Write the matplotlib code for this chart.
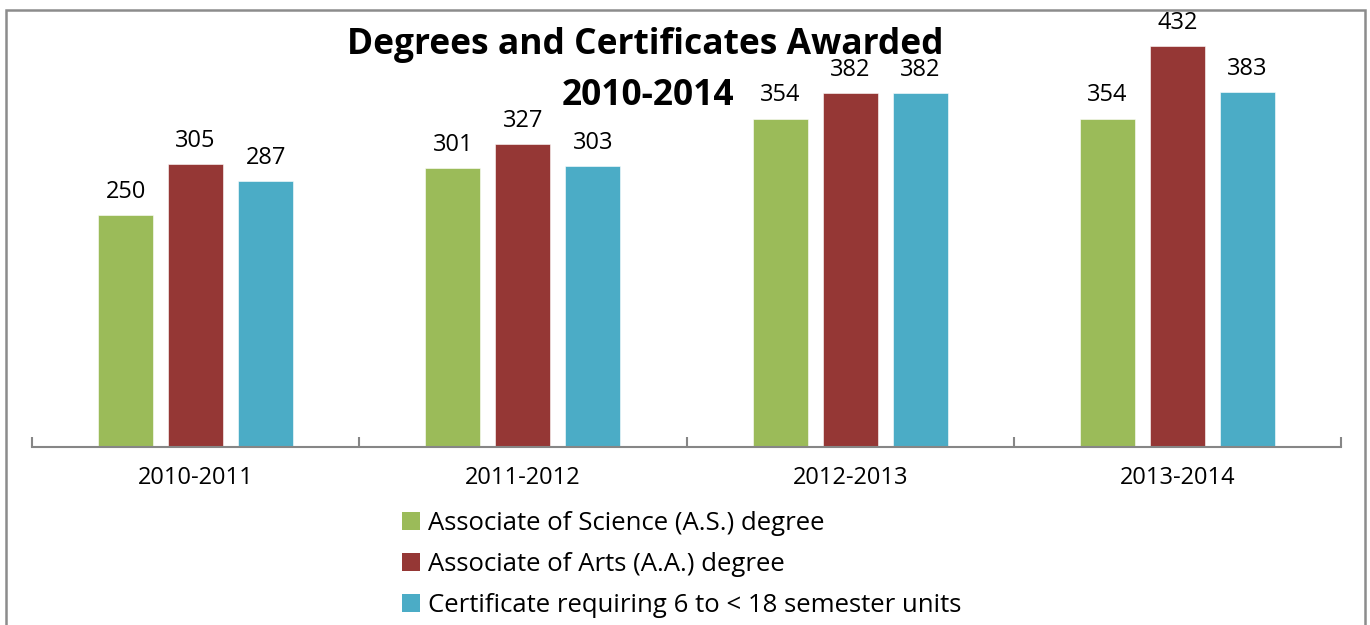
import matplotlib
matplotlib.use('Agg')
import matplotlib.pyplot as plt
from matplotlib.patches import Rectangle, Patch
import numpy as np

plt.rcParams['font.family'] = ['Open Sans', 'DejaVu Sans']

years = ['2010-2011', '2011-2012', '2012-2013', '2013-2014']
series_names = ['Associate of Science (A.S.) degree',
                'Associate of Arts (A.A.) degree',
                'Certificate requiring 6 to < 18 semester units']
as_degree = [250, 301, 354, 354]
aa_degree = [305, 327, 382, 432]
certificate = [287, 303, 382, 383]
colors = ['#9BBB59', '#953735', '#4BACC6']

fig = plt.figure(figsize=(13.7, 6.25), dpi=100)
ax = fig.add_axes([32 / 1370, (625 - 447) / 625, (1341 - 32) / 1370, 436 / 625])

x = np.arange(len(years))
width = 0.168
step = 0.214
for i, (vals, col) in enumerate(zip([as_degree, aa_degree, certificate], colors)):
    pos = x + (i - 1) * step
    bars = ax.bar(pos, vals, width, color=col, edgecolor='white', linewidth=0.4)
    for b, v in zip(bars, vals):
        ax.annotate(str(v), (b.get_x() + b.get_width() / 2, v),
                    xytext=(0, 8), textcoords='offset points',
                    ha='center', va='bottom', fontsize=17, color='black')

ax.set_xlim(-0.5, len(years) - 0.5)
ax.set_ylim(0, 470)
for s in ['top', 'right', 'left']:
    ax.spines[s].set_visible(False)
ax.spines['bottom'].set_color('#868686')
ax.spines['bottom'].set_linewidth(1.5)
ax.set_yticks([])
ax.set_xticks(np.arange(-0.5, len(years), 1.0), minor=False)
ax.set_xticklabels([])
ax.tick_params(axis='x', which='major', direction='in', length=7, width=1.5, color='#868686')
ax.set_xticks(x, minor=True)
ax.set_xticklabels(years, minor=True, fontsize=17)
ax.tick_params(axis='x', which='minor', length=0, pad=14)

fig.text(645 / 1370, 1 - 45 / 625, 'Degrees and Certificates Awarded',
         ha='center', va='center', fontsize=25.5, fontweight='bold')
fig.text(648 / 1370, 1 - 96 / 625, '2010-2014',
         ha='center', va='center', fontsize=25.5, fontweight='bold')

handles = [Patch(facecolor=c, edgecolor='none') for c in colors]
fig.legend(handles, series_names, loc='upper left',
           bbox_to_anchor=(392 / 1370, 1 - 501 / 625), frameon=False,
           fontsize=18.5, handlelength=0.7, handleheight=0.7,
           handletextpad=0.3, labelspacing=0.62, borderaxespad=0)

fig.patches.append(Rectangle((6 / 1370, -0.05), (1365 - 6) / 1370, 1.05 - 10 / 625,
                             transform=fig.transFigure, fill=False,
                             edgecolor='#8c8c8c', linewidth=1.8))

fig.savefig('out.png', dpi=100)
